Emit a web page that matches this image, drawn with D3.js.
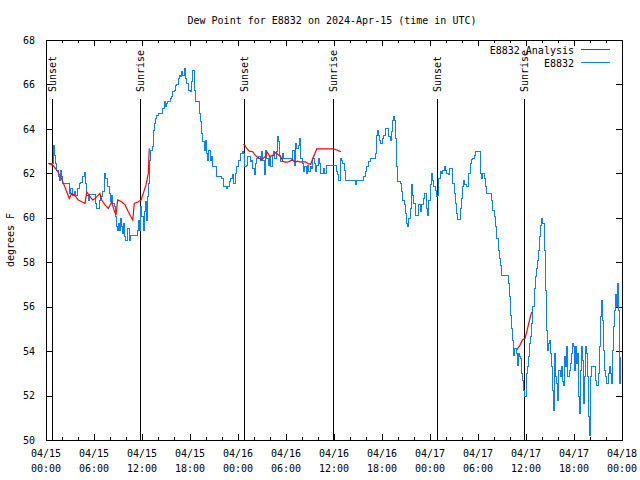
<!DOCTYPE html>
<html><head><meta charset="utf-8">
<script src="https://cdn.jsdelivr.net/npm/d3@7"></script>
<style>body{margin:0;background:#fff}svg{display:block}text{font-family:"DejaVu Sans Mono",monospace;font-size:10px;fill:#000}</style>
</head><body>
<script>
// Hours since 2024-04-15 00:00 UTC
const blueHours = [0.25,0.88,1.0,1.13,1.34,1.5,1.63,1.75,1.91,2.04,2.75,2.88,3.09,3.29,3.5,3.71,3.91,4.13,4.34,4.54,4.75,4.96,5.09,5.25,5.38,6.21,6.34,6.63,6.84,7.04,7.25,7.46,7.66,7.88,8.0,8.16,8.29,8.5,8.63,8.79,8.91,9.0,9.13,9.25,9.41,9.54,9.66,9.84,9.96,10.16,10.38,10.5,11.41,11.54,11.66,11.84,11.96,12.13,12.25,12.38,12.5,12.66,12.79,12.91,13.09,13.25,13.41,13.54,13.66,13.84,14.04,14.59,14.75,14.88,15.0,15.16,15.5,15.71,15.84,16.0,16.13,16.34,16.54,16.66,16.84,16.96,17.09,17.25,17.38,17.59,17.79,18.0,18.21,18.34,18.5,18.63,19.16,19.34,19.41,19.59,19.75,19.91,20.09,20.21,20.34,20.5,20.63,20.75,21.16,21.25,21.96,22.16,22.5,22.66,22.91,23.09,23.25,23.41,23.63,23.84,24.04,24.25,24.5,24.66,24.75,25.0,25.16,25.5,25.71,25.84,26.0,26.13,26.34,26.54,26.75,26.91,27.09,27.25,27.41,27.59,27.75,27.91,28.09,28.25,28.41,28.59,28.75,28.91,29.04,29.16,29.34,29.5,29.66,30.71,30.84,31.0,31.16,31.34,31.5,31.66,31.84,32.0,32.16,32.34,32.5,32.66,32.84,33.0,33.16,33.34,33.5,33.66,33.84,34.0,34.16,34.34,34.66,34.84,35.0,36.34,36.46,36.59,36.75,36.96,37.09,37.25,37.38,38.63,38.75,39.66,39.88,40.09,40.29,40.5,41.13,41.25,41.34,41.41,41.54,41.66,41.84,42.0,42.16,42.38,42.84,43.0,43.13,43.25,43.34,43.46,43.59,43.71,43.84,43.96,44.25,44.46,44.59,44.75,44.91,45.09,45.21,45.34,45.5,45.66,45.79,45.91,46.13,46.59,46.75,46.91,47.16,47.34,47.5,47.66,47.84,48.0,48.16,48.34,48.45,48.63,48.75,48.91,49.04,49.25,49.46,49.59,49.75,49.91,50.09,50.29,50.41,50.84,51.0,51.13,51.34,51.46,51.84,51.96,52.09,52.21,52.34,52.5,52.84,53.0,53.16,53.34,53.5,53.66,54.34,54.46,54.59,54.75,54.91,55.09,55.66,55.84,56.0,56.16,56.34,56.5,56.66,56.79,56.91,57.79,57.91,58.0,58.09,58.21,58.34,58.41,58.59,58.75,58.88,59.0,59.16,59.34,59.46,59.59,59.66,59.86,60.0,60.16,60.29,60.41,60.59,60.71,60.84,61.0,61.13,61.25,61.41,61.54,61.66,61.84,61.96,62.09,62.25,62.38,62.5,62.63,62.75,62.88,63.0,63.16,63.29,63.41,63.54,63.66,63.84,63.96,64.09,64.25,64.41,64.54,64.66,64.79,64.96,65.09,65.21,65.38,65.5,65.63,65.79,65.91,66.04,66.21,66.34,66.46,66.59,66.71,66.84,66.96,67.09,67.21,67.34,67.46,67.59,67.71,67.84,67.96,68.09,68.21,68.63,68.75,69.04,69.16,69.29,69.41,69.54,69.66,69.79,69.91,70.04,70.29,70.41,70.54,70.66,70.79,70.91,71.04,71.16,71.29,71.41,71.54,71.66,71.75];
const blueValues = [62.45,63.27,62.8,62.45,62.15,61.85,61.7,62.15,61.85,61.55,61.55,61.1,61.3,61.0,61.2,61.0,61.3,61.55,61.6,61.85,62.03,61.55,61.0,60.8,61.07,60.66,60.4,60.8,60.95,61.17,62.0,61.78,61.4,61.1,60.72,61.0,60.65,60.5,60.05,59.6,59.45,59.75,59.45,59.97,59.6,59.3,59.75,59.15,59.0,59.53,59.0,59.2,59.45,59.9,59.45,60.5,60.05,59.45,60.27,60.72,59.9,60.95,61.55,62.6,63.05,63.2,63.95,64.25,64.48,64.62,64.7,64.93,65.22,64.99,65.15,65.22,65.38,65.45,65.67,65.75,65.97,66.02,66.28,66.42,66.35,66.57,66.42,66.72,66.28,66.05,65.75,65.67,66.12,66.65,65.75,65.22,64.7,64.32,63.8,63.42,63.05,63.5,62.9,62.6,63.05,62.6,62.75,62.3,62.3,61.85,61.78,61.4,61.33,61.4,61.62,61.78,61.93,61.55,62.0,62.3,62.6,62.9,62.97,62.9,62.3,62.37,62.75,62.52,62.6,62.22,61.93,62.45,62.67,62.75,62.6,62.97,62.6,61.96,63.05,62.67,62.37,62.75,62.3,62.82,62.97,62.67,62.97,63.65,63.42,62.82,62.52,62.9,62.67,62.6,63.05,62.37,63.35,63.12,63.27,63.57,62.67,62.45,62.07,62.3,62.0,62.37,62.07,62.3,62.22,62.67,62.45,62.07,62.37,62.67,62.45,62.0,62.22,62.0,62.37,62.07,61.93,61.7,62.67,62.6,62.45,62.15,61.7,61.48,61.7,61.85,62.07,62.3,62.52,62.67,62.9,63.27,63.72,63.95,63.72,63.5,63.35,63.57,63.72,64.02,63.65,63.5,63.87,64.1,64.4,64.55,64.4,63.57,62.3,61.62,61.55,61.17,60.8,60.58,60.2,59.75,59.6,59.97,60.42,61.48,61.02,60.65,60.12,60.58,60.27,60.58,60.87,61.1,60.42,60.12,60.8,61.5,62.0,61.7,61.4,61.25,60.95,61.02,61.78,62.07,62.0,62.15,62.3,62.15,62.0,61.93,62.22,61.55,61.1,60.65,60.2,59.93,60.42,60.87,61.4,61.7,61.48,61.4,62.0,62.45,62.63,62.67,62.82,62.97,62.0,61.78,62.0,61.78,61.4,61.1,60.8,60.35,60.05,59.6,59.07,58.55,58.18,57.87,57.42,57.05,56.45,56.0,55.62,55.02,54.5,53.82,54.13,53.9,53.37,53.9,53.75,53.68,53.0,52.7,52.25,51.95,53.0,53.3,53.75,54.35,54.65,55.25,56.0,56.83,57.35,57.72,58.1,58.55,59.15,59.67,59.97,59.75,58.55,56.75,54.95,54.05,54.35,54.5,53.9,53.3,52.25,51.35,53.9,52.85,52.55,51.8,53.15,52.85,53.3,52.62,52.47,53.75,53.3,54.2,52.85,53.15,53.45,53.9,54.35,54.2,53.15,54.2,53.45,53.9,51.95,51.2,53.15,54.2,53.6,51.65,52.85,54.2,53.9,52.85,51.05,50.2,52.85,53.3,52.7,52.47,53.0,54.2,55.55,56.3,55.4,54.05,53.15,52.85,52.55,53.0,53.3,53.0,52.55,54.05,55.1,55.85,56.53,56.0,57.05,55.85,52.55,53.75];

const redHours = [0.29,0.84,1.34,1.84,2.25,2.59,2.91,3.21,3.63,4.04,4.46,4.88,5.09,5.41,5.84,6.13,6.34,6.75,6.96,7.38,7.79,8.21,8.5,8.75,8.96,9.46,9.88,10.29,10.84,11.04,11.54,11.88,12.16,12.5,12.79,12.91,18.0,24.66,24.88,25.09,25.41,25.84,26.13,26.54,26.96,27.38,27.66,28.0,28.41,28.75,29.04,29.34,29.59,29.88,30.16,30.5,30.84,31.13,31.41,31.75,32.41,32.66,33.09,33.34,33.63,33.84,35.91,36.34,36.88,48.0,58.84,59.25,59.59,59.88,60.09,60.29,60.5,60.71];
const redValues = [62.45,62.37,62.15,61.85,61.48,61.17,60.87,61.1,61.0,60.8,60.72,60.65,61.17,61.0,60.8,60.87,60.95,61.1,60.8,60.58,60.42,60.72,60.35,60.12,60.8,60.72,60.58,60.27,59.9,60.65,60.72,60.8,61.1,61.48,62.0,63.12,null,63.3,63.25,63.12,63.0,62.97,62.82,62.7,62.6,62.75,62.95,62.75,62.82,62.95,62.82,62.75,62.55,62.5,62.5,62.55,62.6,62.5,62.55,62.52,62.52,62.45,62.4,62.67,62.9,63.1,63.1,63.05,62.97,null,54.05,54.27,54.52,54.57,54.87,55.17,55.47,55.77];

const eventLabels = ["Sunset","Sunrise","Sunset","Sunrise","Sunset","Sunrise"];
const eventHours = [0.79,11.8,24.81,35.83,48.84,59.72];

const xTickHours = [0,6,12,18,24,30,36,42,48,54,60,66,72];
const xTickDates = ["04/15","04/15","04/15","04/15","04/16","04/16","04/16","04/16","04/17","04/17","04/17","04/17","04/18"];
const xTickTimes = ["00:00","06:00","12:00","18:00","00:00","06:00","12:00","18:00","00:00","06:00","12:00","18:00","00:00"];
const yTicks = [50,52,54,56,58,60,62,64,66,68];
const seriesNames = ["E8832 Analysis","E8832"];
const seriesColors = ["#ff0000","#0a80ff"];

const W=640,H=480, L=46,R=622,T=40,B=440;
const svg = d3.select("body").append("svg").attr("width",W).attr("height",H);
const x = d3.scaleLinear().domain([0,72]).range([L,R]);
const y = d3.scaleLinear().domain([50,68]).range([B,T]);

svg.append("text").attr("x",332).attr("y",24).attr("text-anchor","middle").text("Dew Point for E8832 on 2024-Apr-15 (time in UTC)");
svg.append("text").attr("transform","translate(14,240) rotate(-90)").attr("text-anchor","middle").text("degrees F");

function clean(g){g.select(".domain").remove();g.selectAll("line").attr("stroke","#000").attr("shape-rendering","crispEdges");}
const minor = d3.range(0,73,2);
svg.append("g").attr("transform",`translate(0,${B})`).call(d3.axisBottom(x).tickValues(minor).tickSize(-3).tickFormat("")).call(clean);
svg.append("g").attr("transform",`translate(0,${T})`).call(d3.axisTop(x).tickValues(minor).tickSize(-3).tickFormat("")).call(clean);
svg.append("g").attr("transform",`translate(0,${B})`).call(d3.axisBottom(x).tickValues(xTickHours).tickSize(-6).tickFormat("")).call(clean);
svg.append("g").attr("transform",`translate(0,${T})`).call(d3.axisTop(x).tickValues(xTickHours).tickSize(-6).tickFormat("")).call(clean);
const xl = svg.append("g");
xTickHours.forEach((h,i)=>{
  const t = xl.append("text").attr("x",x(h)).attr("y",457).attr("text-anchor","middle");
  t.append("tspan").attr("x",x(h)).attr("dy",0).text(xTickDates[i]);
  t.append("tspan").attr("x",x(h)).attr("dy",15).text(xTickTimes[i]);
});
svg.append("g").attr("transform",`translate(${L},0)`).call(d3.axisLeft(y).tickValues(yTicks).tickSize(-6).tickPadding(11).tickFormat(d3.format("d"))).call(clean)
  .selectAll("text").style("font-family","DejaVu Sans Mono").style("font-size","10px");
svg.append("g").attr("transform",`translate(${R},0)`).call(d3.axisRight(y).tickValues(yTicks).tickSize(-6).tickFormat("")).call(clean);

eventHours.forEach((h,i)=>{
  svg.append("line").attr("x1",Math.round(x(h))+0.5).attr("x2",Math.round(x(h))+0.5).attr("y1",99).attr("y2",B).attr("stroke","#000");
  svg.append("text").attr("transform",`translate(${Math.round(x(h))+4},92) rotate(-90)`).attr("text-anchor","start").text(eventLabels[i]);
});

const blue = blueHours.map((h,i)=>({h,v:blueValues[i]}));
const red = redHours.map((h,i)=>({h,v:redValues[i]}));
svg.append("path").datum(blue).attr("fill","none").attr("stroke",seriesColors[1]).attr("stroke-width",1).attr("shape-rendering","crispEdges")
  .attr("d",d3.line().x(d=>x(d.h)).y(d=>y(d.v)).curve(d3.curveStepAfter));
svg.append("path").datum(red).attr("fill","none").attr("stroke",seriesColors[0]).attr("stroke-width",1.2)
  .attr("d",d3.line().defined(d=>d.v!==null).x(d=>x(d.h)).y(d=>y(d.v)));

svg.append("rect").attr("x",L+0.5).attr("y",T+0.5).attr("width",R-L).attr("height",B-T).attr("fill","none").attr("stroke","#000").attr("shape-rendering","crispEdges");

seriesNames.forEach((n,i)=>{
  const yy = 50+i*13;
  svg.append("text").attr("x",574).attr("y",yy+3.5).attr("text-anchor","end").text(n);
  svg.append("line").attr("x1",581).attr("x2",610).attr("y1",yy-0.5).attr("y2",yy-0.5).attr("stroke",seriesColors[i]).attr("stroke-width",1).attr("shape-rendering","crispEdges");
});
</script>
</body></html>
